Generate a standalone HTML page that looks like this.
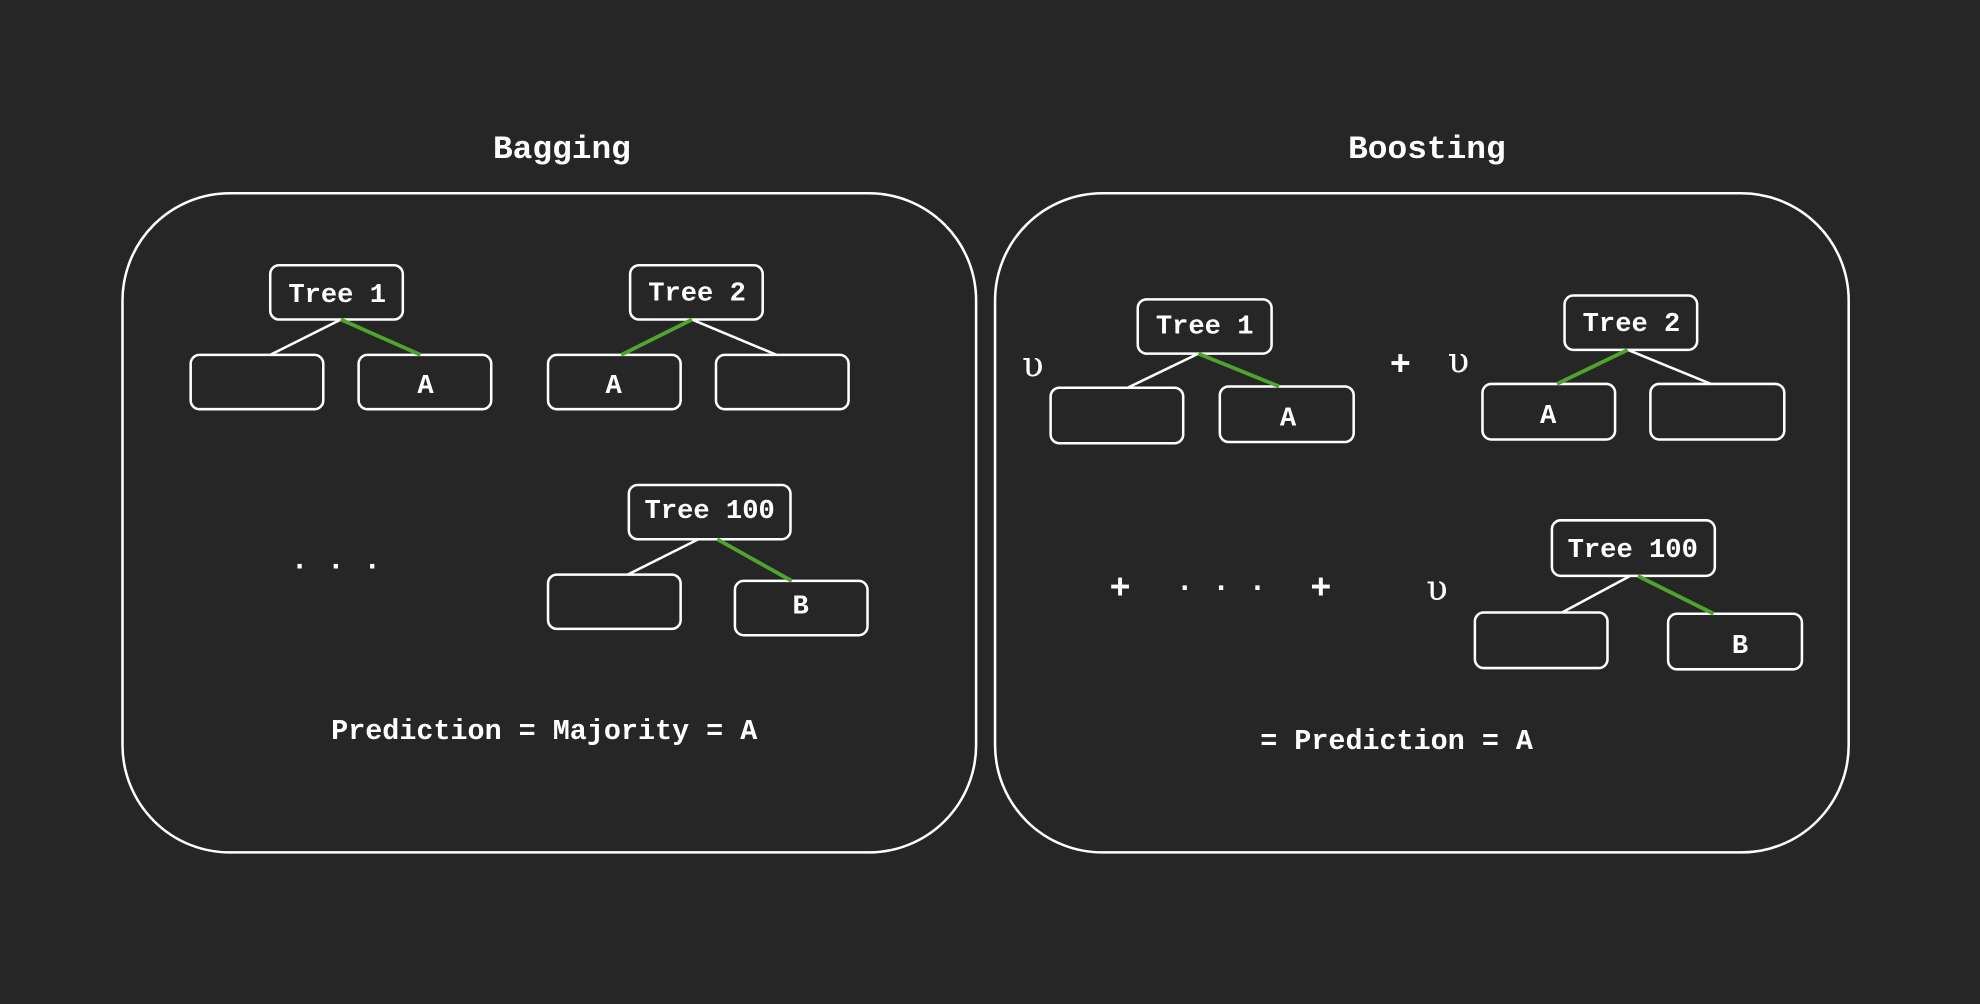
<!DOCTYPE html>
<html><head><meta charset="utf-8"><style>
html,body{margin:0;padding:0;background:#262626;}
svg{display:block}
text{font-family:"Liberation Mono","DejaVu Sans Mono",monospace;fill:#fff;}
</style></head><body>
<svg width="1980" height="1004" viewBox="0 0 1568 795" xmlns="http://www.w3.org/2000/svg">
<rect width="1568" height="795" fill="#262626"/>
<g fill="none" stroke="#fff" stroke-width="2">
<rect x="97" y="153" width="676" height="522" rx="85"/>
<rect x="788" y="153" width="676" height="522" rx="85"/>
<rect x="214" y="210" width="105" height="43" rx="7"/>
<rect x="151" y="281" width="105" height="43" rx="7"/>
<rect x="284" y="281" width="105" height="43" rx="7"/>
<rect x="499" y="210" width="105" height="43" rx="7"/>
<rect x="434" y="281" width="105" height="43" rx="7"/>
<rect x="567" y="281" width="105" height="43" rx="7"/>
<rect x="498" y="384" width="128" height="43" rx="7"/>
<rect x="434" y="455" width="105" height="43" rx="7"/>
<rect x="582" y="460" width="105" height="43" rx="7"/>
<rect x="901" y="237" width="106" height="43" rx="7"/>
<rect x="832" y="307" width="105" height="44" rx="7"/>
<rect x="966" y="306" width="106" height="44" rx="7"/>
<rect x="1239" y="234" width="105" height="43" rx="7"/>
<rect x="1174" y="304" width="105" height="44" rx="7"/>
<rect x="1307" y="304" width="106" height="44" rx="7"/>
<rect x="1229" y="412" width="129" height="44" rx="7"/>
<rect x="1168" y="485" width="105" height="44" rx="7"/>
<rect x="1321" y="486" width="106" height="44" rx="7"/>
<line x1="270" y1="253" x2="214" y2="281"/>
<line x1="548" y1="253" x2="615" y2="281"/>
<line x1="553" y1="427" x2="497" y2="455"/>
<line x1="949" y1="280" x2="893" y2="307"/>
<line x1="1289" y1="277" x2="1355" y2="304"/>
<line x1="1291" y1="456" x2="1237" y2="485"/>
</g>
<g stroke="#4ea52e" stroke-width="3">
<line x1="270" y1="253" x2="333" y2="281"/>
<line x1="548" y1="253" x2="492" y2="281"/>
<line x1="568" y1="427" x2="627" y2="460"/>
<line x1="949" y1="280" x2="1013" y2="306"/>
<line x1="1289" y1="277" x2="1233" y2="304"/>
<line x1="1297" y1="456" x2="1357" y2="486"/>
</g>
<g font-size="26" text-anchor="middle" font-weight="bold">
<text x="445" y="125">Bagging</text>
<text x="1130" y="125">Boosting</text>
</g>
<g font-size="21.5" text-anchor="middle" font-weight="bold">
<text x="267" y="239">Tree 1</text>
<text x="337" y="311">A</text>
<text x="552" y="238">Tree 2</text>
<text x="486" y="311">A</text>
<text x="562" y="410">Tree 100</text>
<text x="634" y="486">B</text>
<text x="954" y="264">Tree 1</text>
<text x="1020" y="337">A</text>
<text x="1292" y="262">Tree 2</text>
<text x="1226" y="335">A</text>
<text x="1293" y="441">Tree 100</text>
<text x="1378" y="517">B</text>
<text x="431" y="585" font-size="22.5">Prediction = Majority = A</text>
<text x="1106" y="593" font-size="22.5">= Prediction = A</text>
<text x="266" y="455" font-size="24">· · ·</text>
<text x="967" y="472" font-size="24">· · ·</text>
</g>
<g font-size="28" text-anchor="middle">
<text x="818" y="298" style="font-family:'DejaVu Serif',serif">υ</text>
<text x="1155" y="295" style="font-family:'DejaVu Serif',serif">υ</text>
<text x="1138" y="475" style="font-family:'DejaVu Serif',serif">υ</text>
</g>
<g font-size="28" text-anchor="middle" font-weight="bold">
<text x="1109" y="297">+</text>
<text x="887" y="474">+</text>
<text x="1046" y="474">+</text>
</g>
</svg>
</body></html>
